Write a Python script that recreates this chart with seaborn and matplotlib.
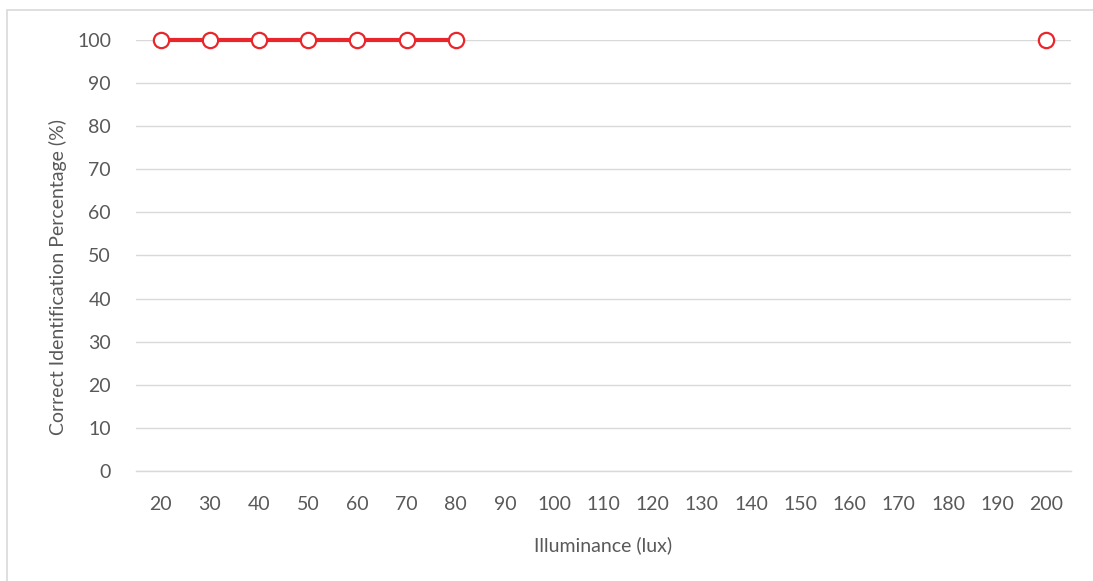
import numpy as np
import pandas as pd
import matplotlib
matplotlib.use("Agg")
import matplotlib.pyplot as plt
import seaborn as sns

# Illuminance levels (categorical axis) and identification results
illuminance = [20, 30, 40, 50, 60, 70, 80, 90, 100, 110, 120, 130, 140, 150,
               160, 170, 180, 190, 200]
correct_pct = [100, 100, 100, 100, 100, 100, 100, np.nan, np.nan, np.nan,
               np.nan, np.nan, np.nan, np.nan, np.nan, np.nan, np.nan, np.nan, 100]
y_ticks = [0, 10, 20, 30, 40, 50, 60, 70, 80, 90, 100]

df = pd.DataFrame({"lux": illuminance, "pct": correct_pct})
df["pos"] = np.arange(len(df))
# contiguous runs of measured values become separate line segments
df["run"] = df["pct"].isna().cumsum()
df = df.dropna(subset=["pct"])

sns.set_theme(style="white")
plt.rcParams["font.family"] = ["Lato", "DejaVu Sans"]

RED = "#E8262B"
GRID = "#D9D9D9"
TEXT = "#595959"
FS = 14

fig = plt.figure(figsize=(10.93, 5.81), dpi=100)
ax = fig.add_axes([136 / 1093, 1 - 471 / 581, (1071 - 136) / 1093, (471 - 40) / 581])

# outer chart frame
fig.patches.append(plt.Rectangle((7 / 1093, -0.05), 1.2, 1 - 10 / 581 + 0.05,
                                 transform=fig.transFigure, fill=False,
                                 edgecolor=GRID, linewidth=1.2, zorder=0))

sns.lineplot(data=df, x="pos", y="pct", units="run", estimator=None,
             color=RED, linewidth=3.0, marker="o", markersize=11,
             markerfacecolor="white", markeredgecolor=RED, markeredgewidth=1.6,
             ax=ax, legend=False, zorder=3, clip_on=False)

ax.set_xlim(-0.5, len(illuminance) - 0.5)
ax.set_ylim(0, 100)
ax.set_xticks(range(len(illuminance)))
ax.set_xticklabels([str(v) for v in illuminance])
ax.set_yticks(y_ticks)
ax.set_yticklabels([str(v) for v in y_ticks])

ax.yaxis.grid(True, color=GRID, linewidth=1.0)
ax.xaxis.grid(False)
for side in ["top", "right", "left"]:
    ax.spines[side].set_visible(False)
ax.spines["bottom"].set_color(GRID)
ax.spines["bottom"].set_linewidth(1.0)
ax.set_axisbelow(True)

ax.tick_params(axis="both", length=0, labelsize=FS, labelcolor=TEXT)
ax.tick_params(axis="x", pad=18)
ax.tick_params(axis="y", pad=18)

ax.set_xlabel("Illuminance (lux)", fontsize=FS, color=TEXT, labelpad=17)
ax.set_ylabel("Correct Identification Percentage (%)", fontsize=FS, color=TEXT)
ax.yaxis.set_label_coords(-0.074, 0.45)

fig.savefig("out.png", dpi=100, facecolor="white")
